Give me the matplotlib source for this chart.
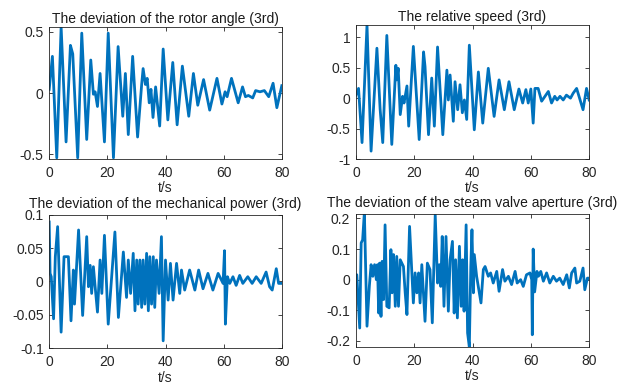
import matplotlib
matplotlib.use('Agg')
import matplotlib.pyplot as plt

# 数据（从图中读取的极值点）
t_angle = [0, 1.1, 2.6, 4.1, 5.8, 7.3, 8.1, 9.8, 11.2, 12.9, 14.3, 15.2, 15.8, 16.6, 17.5,
           19.0, 20.3, 22.1, 23.7, 25.3, 26.2, 27.2, 28.7, 30.4, 31.8, 32.3, 33.1, 33.7,
           34.4, 35.0, 35.7, 36.6, 38.0, 39.2, 40.8, 42.5, 44.0, 45.8, 48.0, 49.6, 51.1,
           53.1, 55.2, 57.7, 59.4, 60.5, 61.2, 62.7, 65.0, 66.5, 67.5, 68.5, 70.0, 71.0,
           72.5, 74.0, 75.5, 77.0, 78.3, 80]
v_angle = [0.03, 0.30, -0.53, 0.54, -0.40, 0.39, 0.32, -0.53, 0.49, -0.38, 0.27, -0.01, 0.01,
           -0.11, 0.16, -0.40, 0.49, -0.53, 0.38, -0.19, 0.16, -0.34, 0.30, -0.36, 0.07, 0.20,
           0.07, 0.12, -0.08, 0.03, -0.20, 0.05, -0.27, 0.36, -0.22, 0.25, -0.26, 0.22, -0.19,
           0.16, -0.10, 0.11, -0.14, 0.12, -0.09, 0.01, -0.03, 0.12, -0.08, 0.05, -0.03, -0.02,
           -0.04, 0.02, 0.01, 0.02, -0.03, 0.08, -0.12, 0.06]

t_speed = [0, 0.9, 2.1, 3.8, 5.2, 7.2, 8.3, 9.2, 10.6, 12.3, 13.7, 14.0, 14.5, 15.2, 16.0,
           16.5, 17.5, 18.1, 19.7, 21.7, 23.2, 23.7, 24.9, 26.0, 26.9, 28.0, 29.8, 31.2,
           31.7, 32.3, 33.4, 34.0, 34.9, 35.7, 36.5, 37.2, 38.0, 38.9, 40.6, 42.0, 43.5,
           45.4, 47.4, 49.1, 50.9, 52.5, 54.3, 55.9, 57.2, 58.3, 59.1, 60.0, 60.8, 61.4,
           62.5, 63.7, 66.0, 67.1, 68.2, 69.0, 70.0, 71.1, 72.2, 73.6, 74.5, 75.7, 77.9,
           79.1, 80]
v_speed = [0.05, 0.16, -0.73, 1.2, -0.87, 0.82, -0.18, -0.73, 1.03, -0.76, 0.54, 0.30, 0.49,
           -0.27, 0.03, -0.08, 0.20, -0.46, 0.85, -0.68, 0.76, 0.52, -0.60, 0.33, -0.46, 0.84,
           -0.60, 0.46, -0.03, 0.38, -0.38, 0.27, -0.19, 0.22, -0.24, -0.03, -0.35, 0.87,
           -0.52, 0.43, -0.41, 0.49, -0.30, 0.30, -0.19, 0.27, -0.19, 0.15, -0.08, 0.14, -0.08,
           0.15, -0.41, 0.16, 0.16, -0.05, 0.11, -0.08, 0.03, -0.03, 0.03, -0.03, 0.05, 0.0,
           0.08, 0.16, -0.19, 0.16, -0.03]

t_power = [0, 0.3, 0.7, 1.5, 2.1, 2.9, 4.1, 5.1, 6.6, 7.5, 8.3, 8.7, 10.1, 11.5, 12.9, 13.5,
           14.1, 14.6, 15.2, 15.8, 16.6, 17.5, 18.1, 19.0, 20.3, 22.6, 23.8, 25.5, 26.6,
           27.2, 28.0, 28.9, 29.5, 30.1, 30.6, 31.2, 31.8, 32.3, 32.9, 33.5, 34.1, 34.6,
           35.2, 35.8, 36.3, 36.9, 37.8, 38.6, 39.2, 40.0, 40.9, 41.7, 42.6, 43.8, 44.9,
           45.5, 46.6, 48.3, 50.1, 51.4, 52.9, 54.6, 56.3, 58.1, 59.8, 60.3, 60.6, 61.3,
           62.1, 63.2, 64.3, 65.5, 66.6, 68.3, 69.8, 71.2, 72.9, 74.6, 75.8, 76.7, 78.1,
           78.9, 80]
v_power = [0.089, 0.012, 0.007, -0.056, 0.037, 0.082, -0.076, 0.037, 0.037, -0.059, 0.017,
           -0.034, 0.077, -0.051, 0.067, -0.008, 0.024, -0.018, 0.022, -0.008, -0.046, 0.032,
           -0.018, 0.069, -0.064, 0.074, -0.054, 0.044, -0.024, 0.032, -0.018, 0.042, -0.044,
           0.032, -0.034, 0.032, -0.039, 0.032, -0.034, 0.042, -0.044, 0.037, -0.034, 0.037,
           -0.039, 0.032, -0.018, 0.067, -0.089, 0.032, -0.028, 0.027, -0.028, 0.027, -0.018,
           0.017, -0.013, 0.017, -0.013, 0.017, -0.011, 0.012, -0.013, 0.012, -0.003, 0.046,
           -0.064, 0.007, -0.003, 0.007, -0.006, 0.009, -0.003, 0.007, -0.003, 0.007, -0.003,
           0.014, -0.008, -0.013, 0.019, -0.003, -0.003]

t_valve = [0, 0.3, 1.3, 1.8, 2.3, 2.9, 3.8, 4.6, 5.2, 5.8, 6.4, 7.0, 7.4, 7.8, 8.1, 8.6, 9.0,
           9.5, 10.0, 10.6, 11.4, 12.0, 12.4, 12.9, 13.5, 14.0, 14.6, 15.2, 16.3, 16.9, 17.5,
           18.4, 19.7, 20.3, 20.9, 21.5, 22.0, 22.6, 23.7, 24.5, 25.4, 26.2, 27.2, 28.0,
           28.6, 29.1, 29.6, 30.2, 30.9, 31.7, 32.3, 33.1, 33.7, 34.2, 34.8, 35.5, 36.1,
           36.6, 37.1, 37.8, 38.3, 38.9, 39.4, 39.8, 40.3, 40.6, 41.4, 42.9, 43.7, 44.3,
           45.4, 46.2, 47.1, 48.3, 49.1, 50.3, 51.1, 52.3, 53.4, 54.6, 55.3, 56.5, 57.4,
           58.5, 59.7, 60.3, 60.5, 60.8, 61.3, 62.1, 62.6, 63.4, 64.3, 65.4, 66.5, 67.7,
           68.8, 69.9, 71.1, 72.3, 73.2, 74.0, 75.1, 75.7, 76.8, 77.9, 78.5, 79.4, 80]
v_valve = [0.011, 0.016, -0.158, 0.12, 0.13, 0.22, -0.152, -0.022, 0.049, 0.011, 0.049, 0.0,
           0.049, -0.109, 0.054, -0.12, 0.06, -0.065, 0.179, -0.087, -0.092, 0.098, -0.043,
           0.082, -0.087, 0.076, -0.087, 0.065, 0.043, -0.043, -0.114, 0.174, -0.076, 0.022,
           -0.043, 0.022, -0.076, 0.049, -0.136, 0.054, 0.033, -0.141, 0.212, -0.011, 0.049,
           -0.022, 0.141, -0.087, 0.141, -0.103, 0.065, 0.125, -0.109, 0.065, -0.125, 0.109,
           -0.087, 0.065, -0.103, 0.179, -0.174, -0.22, 0.043, 0.163, -0.043, 0.082, 0.011,
           -0.076, 0.033, 0.043, 0.011, 0.022, -0.011, 0.027, -0.038, 0.033, -0.005, 0.011,
           -0.016, 0.027, -0.011, 0.0, -0.022, 0.016, 0.022, 0.0, -0.18, 0.10, -0.04, 0.027,
           0.011, 0.027, -0.005, 0.022, -0.011, 0.011, -0.005, 0.005, -0.016, 0.016, -0.027,
           0.022, 0.038, -0.011, -0.005, 0.038, -0.033, 0.005, 0.005]

titles = ['The deviation of the rotor angle (3rd)', 'The relative speed (3rd)',
          'The deviation of the mechanical power (3rd)',
          'The deviation of the steam valve aperture (3rd)']
yticks = [[-0.5, 0, 0.5], [-1, -0.5, 0, 0.5, 1], [-0.1, -0.05, 0, 0.05, 0.1],
          [-0.2, -0.1, 0, 0.1, 0.2]]
ylims = [(-0.54, 0.54), (-1, 1.2), (-0.1, 0.1), (-0.22, 0.215)]
xticks = [0, 20, 40, 60, 80]

plt.rcParams['font.family'] = ['Liberation Sans', 'DejaVu Sans']
plt.rcParams['axes.unicode_minus'] = False

fig = plt.figure(figsize=(6.39, 3.86), dpi=100)
boxes = [[0.077, 0.588, 0.364, 0.342], [0.557, 0.588, 0.365, 0.347],
         [0.077, 0.098, 0.364, 0.346], [0.557, 0.101, 0.365, 0.345]]
series = [(t_angle, v_angle), (t_speed, v_speed), (t_power, v_power), (t_valve, v_valve)]
pads = [3, 3, 5, 5]

for i in range(4):
    ax = fig.add_axes(boxes[i])
    t, v = series[i]
    ax.plot(t, v, color='#0072BD', lw=2.0, solid_joinstyle='round')
    ax.set_xlim(0, 80)
    ax.set_ylim(*ylims[i])
    ax.set_xticks(xticks)
    ax.set_yticks(yticks[i])
    ax.set_yticklabels([('%g' % y) for y in yticks[i]])
    ax.tick_params(direction='in', top=True, right=True, length=3, width=0.6,
                   labelsize=10, colors='#262626')
    ax.tick_params(axis='x', pad=5)
    ax.tick_params(axis='y', pad=4)
    for s in ax.spines.values():
        s.set_color('#262626')
        s.set_linewidth(0.6)
    ax.set_title(titles[i], fontsize=10, color='#1a1a1a', pad=pads[i])
    ax.set_xlabel('t/s', fontsize=10, color='#262626', labelpad=1)

plt.savefig('out.png', dpi=100)
